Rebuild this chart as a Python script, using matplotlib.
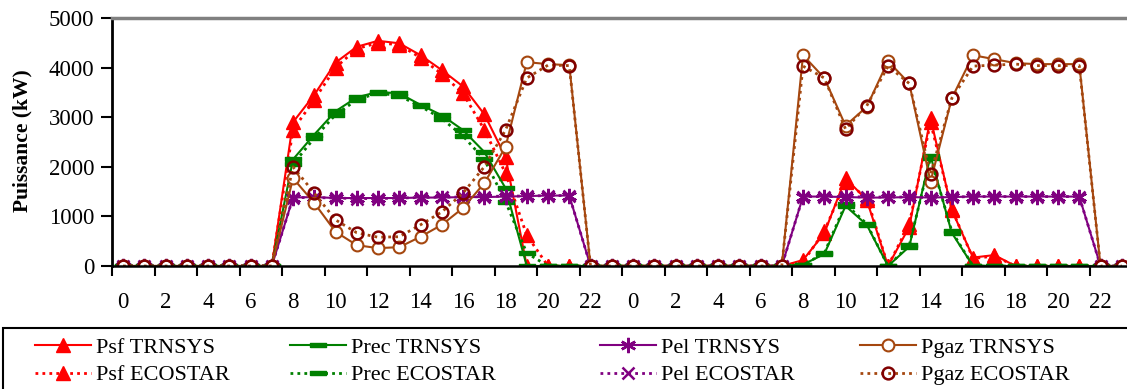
import numpy as np
import matplotlib
matplotlib.use("Agg")
import matplotlib.pyplot as plt
from matplotlib.patches import Rectangle

plt.rcParams['font.family'] = ['Liberation Serif', 'DejaVu Serif']

# heures (2 jours)
heures = list(range(24)) + list(range(24))

zeros8 = [0] * 8
psf_trnsys = zeros8 + [2900, 3450, 4100, 4420, 4540, 4490, 4250, 3950, 3620, 3060, 2200, 0, 0, 0, 0, 0] \
    + zeros8 + [120, 660, 1770, 1330, 0, 790, 2980, 1130, 170, 220, 0, 0, 0, 0, 0, 0]
psf_ecostar = zeros8 + [2750, 3350, 4000, 4380, 4500, 4460, 4200, 3870, 3480, 2750, 1870, 620, 0, 0, 0, 0] \
    + zeros8 + [80, 700, 1700, 1380, 0, 850, 2900, 1150, 150, 200, 0, 0, 0, 0, 0, 0]

prec_trnsys = zeros8 + [2150, 2650, 3120, 3400, 3510, 3480, 3250, 3040, 2740, 2300, 1570, 0, 0, 0, 0, 0] \
    + zeros8 + [30, 240, 1210, 830, 0, 390, 2220, 670, 0, 0, 0, 0, 0, 0, 0, 0]
prec_ecostar = zeros8 + [2050, 2580, 3050, 3350, 3490, 3430, 3220, 2970, 2620, 2150, 1300, 260, 0, 0, 0, 0] \
    + zeros8 + [20, 260, 1250, 850, 0, 420, 2180, 700, 0, 0, 0, 0, 0, 0, 0, 0]

pel_trnsys = zeros8 + [1380, 1390, 1370, 1370, 1370, 1370, 1380, 1380, 1390, 1390, 1400, 1410, 1420, 1420, 0, 0] \
    + zeros8 + [1400, 1400, 1390, 1380, 1380, 1390, 1380, 1390, 1400, 1400, 1400, 1400, 1400, 1400, 0, 0]
pel_ecostar = zeros8 + [1380, 1380, 1370, 1360, 1360, 1370, 1380, 1390, 1390, 1400, 1410, 1410, 1420, 1420, 0, 0] \
    + zeros8 + [1400, 1400, 1400, 1390, 1390, 1390, 1380, 1390, 1400, 1400, 1400, 1400, 1400, 1400, 0, 0]

pgaz_trnsys = zeros8 + [1770, 1270, 690, 420, 360, 380, 590, 830, 1170, 1670, 2400, 4110, 4070, 4050, 0, 0] \
    + zeros8 + [4250, 3790, 2830, 3210, 4130, 3680, 1700, 3380, 4250, 4170, 4090, 4070, 4070, 4070, 0, 0]
pgaz_ecostar = zeros8 + [2000, 1470, 930, 670, 580, 590, 830, 1090, 1470, 2000, 2740, 3790, 4050, 4040, 0, 0] \
    + zeros8 + [4030, 3790, 2760, 3230, 4030, 3680, 1850, 3380, 4030, 4050, 4070, 4040, 4040, 4040, 0, 0]

x = np.arange(len(heures))

W, H = 1127, 389
fig = plt.figure(figsize=(W / 100, H / 100), dpi=100)
ax = fig.add_axes([112.4 / W, (H - 266) / H, 1020 / W, 248 / H])

rect_marker = [(-1.5, -0.4), (1.5, -0.4), (1.5, 0.4), (-1.5, 0.4), (-1.5, -0.4)]
brun = '#A5470F'
brun_fonce = '#800000'
pointille = (0, (1, 1.5))

l1, = ax.plot(x, psf_trnsys, color='red', lw=1.5, marker='^', ms=9.5, label='Psf TRNSYS')
l2, = ax.plot(x, psf_ecostar, color='red', lw=2, ls=pointille, marker='^', ms=9.5, label='Psf ECOSTAR')
l3, = ax.plot(x, prec_trnsys, color='#008000', lw=1.5, marker=rect_marker, ms=11, label='Prec TRNSYS')
l4, = ax.plot(x, prec_ecostar, color='#008000', lw=2, ls=pointille, marker=rect_marker, ms=11,
              label='Prec ECOSTAR')
l5, = ax.plot(x, pel_trnsys, color='#800080', lw=1.5, marker=(6, 2, 0), ms=11, mew=1.8, label='Pel TRNSYS')
l6, = ax.plot(x, pel_ecostar, color='#800080', lw=2, ls=pointille, marker='x', ms=8, mew=1.8,
              label='Pel ECOSTAR')
l7, = ax.plot(x, pgaz_trnsys, color=brun, lw=1.5, marker='o', ms=8.5, mfc='white', mec=brun, mew=1.5,
              label='Pgaz TRNSYS')
l8, = ax.plot(x, pgaz_ecostar, color=brun, lw=2, ls=pointille, marker='o', ms=8.5, mfc='none',
              mec=brun_fonce, mew=1.8, label='Pgaz ECOSTAR')

ax.set_xlim(-0.5, len(heures) - 0.5)
ax.set_ylim(0, 5000)
ax.set_yticks([0, 1000, 2000, 3000, 4000, 5000])
ax.tick_params(axis='y', direction='out', length=8, width=1.5, pad=5, labelsize=16.5)

# graduations entre les catégories, étiquettes au centre
ax.set_xticks(np.arange(-0.5, len(heures), 2))
ax.set_xticklabels([])
ax.set_xticks(x[::2], minor=True)
ax.set_xticklabels([str(h) for h in heures[::2]], minor=True)
ax.tick_params(axis='x', which='major', direction='out', length=7, width=1.5)
ax.tick_params(axis='x', which='minor', length=0, pad=19, labelsize=16.5)

ax.spines['left'].set_linewidth(2)
ax.spines['bottom'].set_linewidth(1.8)
ax.spines['top'].set_color('#808080')
ax.spines['top'].set_linewidth(2.5)
ax.spines['right'].set_visible(False)

fig.text(22 / W, 1 - 141 / H, 'Puissance (kW)', rotation=90, ha='center', va='center',
         fontsize=15.5, fontweight='bold')

# légende en 4 colonnes
fig.patches.append(Rectangle((3 / W, -0.1), 1.2, (H - 328) / H + 0.1, transform=fig.transFigure,
                             fill=False, ec='black', lw=1.5, clip_on=False))
cols = [(l1, l2, 35), (l3, l4, 290), (l5, l6, 600), (l7, l8, 860)]
for a, b, xpos in cols:
    fig.legend(handles=[a, b], loc='upper left', bbox_to_anchor=(xpos / W, 1 - 337 / H),
               frameon=False, fontsize=16, handlelength=2.5, handletextpad=0.25,
               labelspacing=0.33, borderpad=0, borderaxespad=0, numpoints=1)

fig.savefig('out.png', dpi=100)
